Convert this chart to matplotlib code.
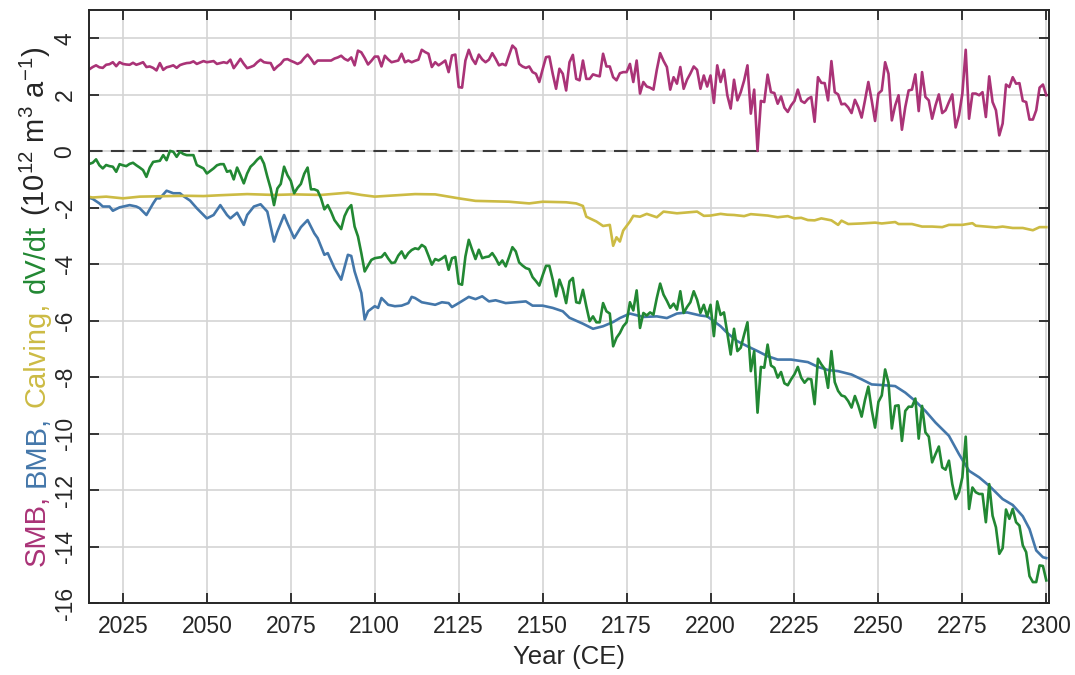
import numpy as np
import matplotlib
matplotlib.use("Agg")
import matplotlib.pyplot as plt
from matplotlib.transforms import IdentityTransform

plt.rcParams['font.family'] = ['Liberation Sans', 'DejaVu Sans']
plt.rcParams['mathtext.fontset'] = 'custom'
plt.rcParams['mathtext.rm'] = 'Liberation Sans'
plt.rcParams['mathtext.it'] = 'Liberation Sans:italic'
plt.rcParams['mathtext.bf'] = 'Liberation Sans:bold'

# ---------------- data (annual, 2015-2300) ----------------
smb = [
    2.90, 2.98, 3.04, 2.97, 2.95,
    3.06, 3.08, 3.15, 3.01, 3.15, 3.09, 3.07, 3.06, 3.13, 3.06,
    3.10, 3.15, 2.98, 3.00, 2.95, 2.86, 3.12, 2.88, 2.97, 3.00,
    3.04, 2.95, 3.05, 3.09, 3.12, 3.13, 3.18, 3.09, 3.14, 3.19,
    3.15, 3.17, 3.19, 3.09, 3.12, 3.15, 3.12, 3.24, 2.94, 3.10,
    3.27, 3.09, 2.94, 2.98, 3.03, 3.15, 3.24, 3.15, 3.13, 3.12,
    2.88, 3.00, 3.09, 3.24, 3.26, 3.20, 3.15, 3.09, 3.15, 3.30,
    3.42, 3.27, 3.09, 3.21, 3.21, 3.21, 3.21, 3.21, 3.28, 3.32,
    3.38, 3.27, 3.21, 3.32, 3.04, 3.56, 3.50, 3.30, 3.07, 3.20,
    3.35, 3.35, 3.00, 3.38, 3.25, 3.15, 3.18, 3.21, 3.45, 3.15,
    3.21, 3.15, 3.20, 3.24, 3.59, 3.51, 3.45, 2.98, 3.15, 3.04,
    3.12, 3.21, 2.80, 3.39, 3.42, 2.27, 2.25, 3.21, 3.59, 3.27,
    3.09, 3.42, 3.25, 3.15, 3.24, 3.47, 3.27, 3.04, 3.09, 3.04,
    3.40, 3.74, 3.62, 3.09, 3.00, 2.95, 3.00, 2.80, 2.74, 2.45,
    2.90, 3.33, 3.35, 2.74, 2.21, 2.92, 2.74, 2.15, 3.15, 3.41,
    2.56, 2.51, 3.21, 2.56, 2.56, 2.72, 2.68, 2.65, 3.45, 3.00,
    3.00, 2.62, 2.51, 2.76, 2.80, 2.80, 3.09, 2.45, 3.21, 2.04,
    2.45, 2.29, 2.25, 2.18, 2.88, 3.47, 3.20, 2.98, 2.18, 2.62,
    2.39, 2.98, 2.21, 2.53, 2.75, 3.00, 2.88, 2.21, 2.68, 2.29,
    2.68, 1.71, 3.04, 2.45, 2.88, 1.98, 1.51, 2.53, 1.80, 2.09,
    2.50, 3.04, 1.33, 2.18, 0.01, 1.78, 1.74, 2.71, 2.09, 2.06,
    1.68, 1.94, 1.54, 1.39, 1.62, 1.78, 2.18, 1.78, 1.71, 1.85,
    1.92, 1.04, 2.62, 2.42, 2.41, 1.80, 3.19, 2.09, 2.01, 1.66,
    1.68, 1.55, 1.35, 1.82, 1.56, 1.19, 1.80, 2.45, 1.80, 1.07,
    2.04, 2.15, 3.15, 2.74, 1.09, 1.62, 1.98, 0.76, 1.56, 2.15,
    2.18, 2.72, 1.42, 2.80, 1.92, 1.80, 1.15, 1.62, 2.01, 1.35,
    1.45, 1.74, 2.01, 0.84, 1.27, 2.04, 3.59, 1.15, 2.04, 2.04,
    1.98, 2.09, 1.21, 2.65, 1.74, 1.45, 0.56, 0.98, 2.36, 2.27,
    2.62, 2.39, 2.41, 1.78, 1.74, 1.12, 1.12, 1.45, 2.25, 2.36,
    1.98,
]
smb_years = np.arange(2015, 2015 + len(smb))

dvdt = [
    -0.45, -0.41, -0.29, -0.50, -0.61,
    -0.49, -0.53, -0.55, -0.73, -0.46, -0.50, -0.53, -0.45, -0.41, -0.50,
    -0.58, -0.67, -0.91, -0.58, -0.38, -0.36, -0.34, -0.14, -0.32, 0.01,
    -0.02, -0.20, -0.02, -0.10, -0.14, -0.14, -0.14, -0.49, -0.55, -0.61,
    -0.79, -0.70, -0.61, -0.50, -0.46, -0.46, -0.73, -0.69, -1.00, -0.58,
    -0.85, -1.14, -0.79, -0.55, -0.44, -0.30, -0.20, -0.44, -0.90, -1.32,
    -1.91, -1.32, -1.16, -0.55, -0.85, -1.05, -1.49, -1.30, -1.16, -0.80,
    -0.58, -1.35, -1.35, -1.40, -1.67, -2.06, -1.91, -2.15, -2.44, -2.60,
    -2.76, -2.30, -2.05, -1.91, -2.67, -3.02, -3.61, -4.26, -4.05, -3.85,
    -3.79, -3.77, -3.75, -3.61, -3.80, -3.96, -3.94, -3.70, -3.55, -3.79,
    -3.61, -3.50, -3.44, -3.47, -3.32, -3.40, -3.70, -4.02, -3.82, -3.87,
    -3.80, -3.71, -4.20, -3.79, -3.75, -4.69, -4.73, -3.73, -3.14, -3.49,
    -3.82, -3.49, -3.79, -3.75, -3.73, -3.61, -3.79, -4.02, -3.87, -4.08,
    -3.75, -3.40, -3.55, -3.94, -4.05, -4.14, -4.18, -4.46, -4.60, -4.76,
    -4.40, -4.06, -4.06, -4.55, -5.14, -4.55, -4.88, -5.38, -4.61, -4.49,
    -5.35, -5.38, -4.91, -5.49, -6.02, -5.85, -6.06, -6.06, -5.38, -5.67,
    -5.75, -6.91, -6.61, -6.44, -6.20, -6.06, -5.35, -5.64, -4.93, -6.26,
    -5.73, -5.82, -5.71, -5.79, -5.20, -4.69, -5.08, -5.30, -5.55, -5.40,
    -5.61, -4.96, -5.73, -5.52, -5.35, -4.96, -5.26, -5.73, -5.44, -5.85,
    -5.44, -6.55, -5.32, -5.80, -5.71, -6.44, -7.20, -6.29, -7.08, -6.96,
    -6.50, -6.06, -7.79, -7.08, -9.26, -7.64, -7.67, -6.85, -7.59, -7.67,
    -8.02, -7.82, -8.22, -8.29, -8.08, -7.90, -7.64, -8.02, -8.20, -8.06,
    -8.08, -8.96, -7.35, -7.55, -7.71, -8.38, -7.08, -8.18, -8.49, -8.65,
    -8.69, -8.85, -9.08, -8.67, -9.00, -9.40, -8.81, -8.34, -9.16, -9.79,
    -8.88, -8.65, -7.73, -8.20, -9.82, -9.02, -9.00, -10.26, -9.20, -9.05,
    -9.05, -8.76, -10.18, -9.02, -9.96, -10.11, -11.02, -10.73, -10.46, -11.20,
    -11.28, -10.96, -11.79, -12.32, -12.08, -11.55, -10.11, -12.67, -11.91, -12.08,
    -12.14, -12.14, -13.14, -11.79, -12.91, -13.32, -14.26, -14.06, -12.69, -13.02,
    -12.67, -13.14, -13.26, -13.96, -14.20, -15.05, -15.26, -15.26, -14.67, -14.69,
    -15.20,
]
dvdt_years = np.arange(2015, 2015 + len(dvdt))

bmb_years = [2015, 2016, 2018, 2019, 2021, 2022, 2024, 2027, 2029, 2030, 2032, 2034, 2035,
             2036, 2038, 2040, 2042, 2043, 2044, 2045, 2047, 2049, 2050, 2052, 2054, 2056,
             2057, 2059, 2061, 2062, 2064, 2066, 2068, 2070, 2071, 2073, 2074, 2076, 2078,
             2080, 2082, 2083, 2085, 2086, 2088, 2090, 2092, 2093, 2094, 2096, 2097, 2098,
             2100, 2101, 2102, 2104, 2106, 2108, 2110, 2111, 2112, 2114, 2118, 2120, 2122,
             2123, 2125, 2128, 2130, 2132, 2134, 2136, 2139, 2142, 2145, 2147, 2150, 2153,
             2156, 2158, 2162, 2165, 2168, 2171, 2173, 2176, 2180, 2184, 2187, 2190, 2193,
             2197, 2199, 2201, 2203, 2205, 2208, 2211, 2214, 2217, 2220, 2224, 2229, 2232,
             2235, 2238, 2242, 2245, 2248, 2252, 2255, 2258, 2261, 2264, 2267, 2271, 2274,
             2277, 2280, 2283, 2287, 2290, 2293, 2295, 2297, 2299, 2300]
bmb = [-1.65, -1.69, -1.85, -1.96, -1.96, -2.11, -1.99, -1.91, -1.96, -2.02, -2.26, -1.85, -1.67,
       -1.67, -1.40, -1.49, -1.49, -1.59, -1.67, -1.75, -2.02, -2.26, -2.38, -2.26, -1.91, -2.26,
       -2.38, -2.18, -2.61, -2.26, -1.96, -1.88, -2.14, -3.20, -2.85, -2.26, -2.55, -3.08, -2.69,
       -2.44, -2.91, -3.08, -3.67, -3.61, -4.14, -4.55, -3.67, -3.71, -4.26, -5.02, -5.96, -5.67,
       -5.49, -5.55, -5.20, -5.44, -5.49, -5.47, -5.38, -5.16, -5.20, -5.35, -5.44, -5.35, -5.38,
       -5.52, -5.38, -5.16, -5.24, -5.14, -5.32, -5.28, -5.38, -5.35, -5.32, -5.47, -5.47, -5.55,
       -5.67, -5.90, -6.11, -6.29, -6.20, -6.05, -5.91, -5.75, -5.87, -5.85, -5.91, -5.75, -5.71,
       -5.82, -5.85, -6.02, -6.20, -6.44, -6.73, -6.91, -7.08, -7.26, -7.38, -7.38, -7.47, -7.64,
       -7.75, -7.79, -7.91, -8.08, -8.26, -8.29, -8.32, -8.55, -8.85, -9.20, -9.61, -10.08, -10.73,
       -11.32, -11.55, -11.85, -12.32, -12.53, -12.93, -13.38, -14.14, -14.38, -14.41]

calving_years = [2015, 2016, 2020, 2025, 2030, 2039, 2044, 2049, 2054, 2062, 2070, 2076, 2084,
                 2092, 2096, 2100, 2104, 2108, 2112, 2118, 2125, 2130, 2140, 2146, 2150, 2157,
                 2160, 2162, 2163, 2166, 2168, 2170, 2171, 2172, 2173, 2174, 2176, 2177, 2179,
                 2181, 2184, 2186, 2190, 2196, 2198, 2200, 2203, 2205, 2207, 2210, 2212, 2215,
                 2217, 2220, 2223, 2225, 2227, 2229, 2231, 2233, 2236, 2238, 2239, 2241, 2245,
                 2249, 2251, 2255, 2256, 2260, 2263, 2266, 2269, 2271, 2275, 2278, 2279, 2282,
                 2285, 2287, 2290, 2293, 2296, 2298, 2300]
calving = [-1.62, -1.64, -1.61, -1.67, -1.61, -1.59, -1.58, -1.59, -1.56, -1.52, -1.55, -1.53, -1.55,
           -1.47, -1.55, -1.61, -1.58, -1.55, -1.52, -1.53, -1.67, -1.76, -1.79, -1.85, -1.79, -1.81,
           -1.85, -1.94, -2.32, -2.49, -2.65, -2.61, -3.35, -3.05, -3.20, -2.81, -2.49, -2.29, -2.32,
           -2.22, -2.34, -2.14, -2.20, -2.14, -2.29, -2.28, -2.22, -2.25, -2.26, -2.30, -2.23, -2.26,
           -2.28, -2.34, -2.30, -2.38, -2.36, -2.44, -2.45, -2.38, -2.45, -2.61, -2.46, -2.58, -2.56,
           -2.53, -2.56, -2.51, -2.58, -2.58, -2.67, -2.67, -2.69, -2.61, -2.61, -2.55, -2.64, -2.67,
           -2.70, -2.67, -2.72, -2.72, -2.80, -2.69, -2.69]

xticks = [2025, 2050, 2075, 2100, 2125, 2150, 2175, 2200, 2225, 2250, 2275, 2300]
yticks = [-16, -14, -12, -10, -8, -6, -4, -2, 0, 2, 4]
ytick_labels = ["-16", "-14", "-12", "-10", "-8", "-6", "-4", "-2", "0", "2", "4"]

c_smb = '#AA3377'
c_bmb = '#4477AA'
c_calv = '#CCBB44'
c_dvdt = '#228833'
c_text = '#262626'

# ---------------- figure ----------------
fig = plt.figure(figsize=(10.75, 6.75), dpi=100)
ax = fig.add_axes([0.0828, 0.1067, 0.8930, 0.8785])

ax.grid(True, color='#d4d4d4', lw=1.2)
ax.set_axisbelow(True)
ax.axhline(0, color='#3a3a3a', lw=1.5, dashes=(6.5, 4.0), zorder=1.8)

lw = 1.9
ax.plot(bmb_years, bmb, color=c_bmb, lw=lw, zorder=2)
ax.plot(calving_years, calving, color=c_calv, lw=lw, zorder=3)
ax.plot(dvdt_years, dvdt, color=c_dvdt, lw=lw, zorder=4)
ax.plot(smb_years, smb, color=c_smb, lw=lw, zorder=5)

ax.set_xlim(2014.9, 2300.8)
ax.set_ylim(-16, 5)
ax.set_xticks(xticks)
ax.set_xticklabels([str(t) for t in xticks])
ax.set_yticks(yticks, ytick_labels, rotation=90, va='center', ha='right')

ax.tick_params(direction='in', length=7, width=1.3, top=True, right=True,
               labelsize=16.5, colors=c_text, pad=9)
for sp in ax.spines.values():
    sp.set_color(c_text)
    sp.set_linewidth(1.4)
    sp.set_zorder(6)

ax.set_xlabel('Year (CE)', fontsize=18.5, color=c_text, labelpad=5)

# ---------------- multicoloured y label ----------------
fig.canvas.draw()
renderer = fig.canvas.get_renderer()
pieces = [("SMB,", c_smb), ("BMB,", c_bmb), ("Calving,", c_calv), ("dV/dt", c_dvdt),
          (r"(10$^{12}$ m$^{3}$ a$^{-1}$)", c_text)]
fs = 21
texts = []
for s, c in pieces:
    t = fig.text(0, 0, s, color=c, fontsize=fs, rotation=90, rotation_mode='anchor',
                 ha='left', va='baseline', transform=IdentityTransform())
    texts.append(t)
heights = [t.get_window_extent(renderer).height for t in texts]
gap = 0.30 * fs * fig.dpi / 72.0
total = sum(heights) + gap * (len(texts) - 1)
bb = ax.get_window_extent(renderer)
ycenter = (bb.y0 + bb.y1) / 2.0
xbase = 45.0
y = ycenter - total / 2.0
for t, h in zip(texts, heights):
    t.set_position((xbase, y))
    y += h + gap

fig.savefig('out.png', dpi=100)
